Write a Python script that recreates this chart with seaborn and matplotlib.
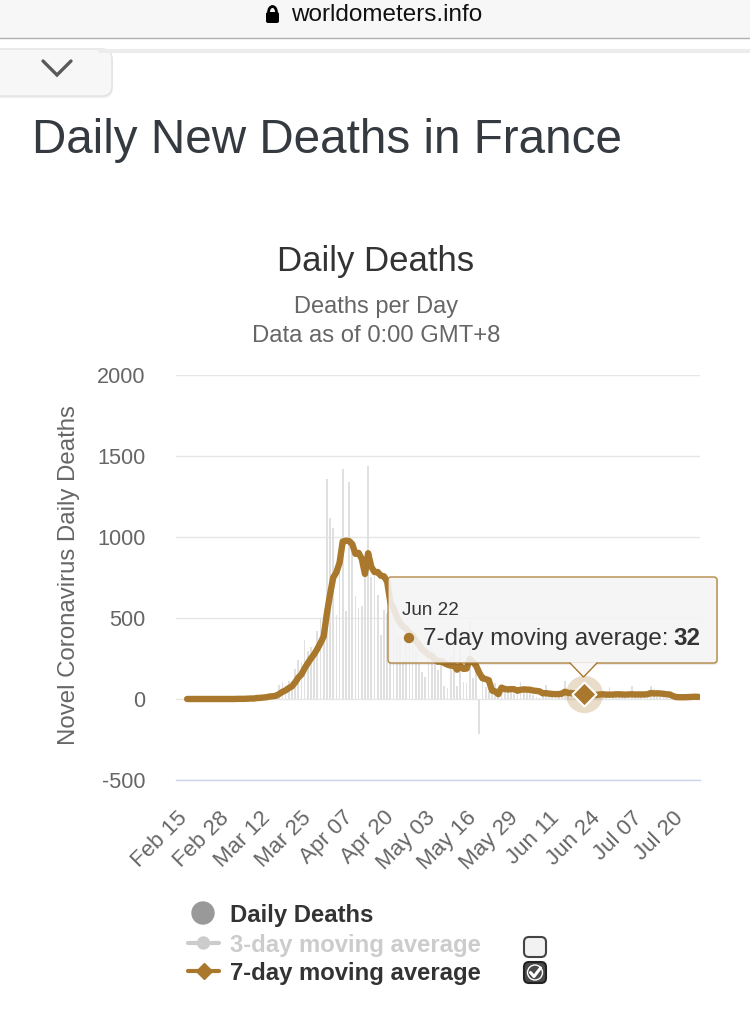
import numpy as np
import pandas as pd
import matplotlib
matplotlib.use("Agg")
import matplotlib.pyplot as plt
import matplotlib.transforms as mtransforms
from matplotlib.patches import FancyBboxPatch, Polygon, Circle, Arc, Rectangle
import seaborn as sns


START_DATE = "2020-02-15"
HOVER_DATE = "2020-06-22"
TICK_EVERY = 13

# daily new deaths, one value per day from Feb 15
daily_deaths = [
    1, 0, 0, 0, 0, 0, 0, 0, 0, 0, 0, 1, 0, 0, 0, 0,
    1, 1, 0, 2, 3, 2, 3, 11, 3, 15, 13, 18, 12, 36, 21, 27,
    89, 108, 78, 112, 112, 186, 240, 231, 365, 299, 319, 292, 418, 499, 509,
    1355, 1120, 1053, 518, 833, 1417, 541, 1341, 987, 635, 561, 574, 762, 1438,
    753, 761, 642, 395, 547, 531, 544, 516, 389, 369, 242, 437, 367, 427, 289,
    218, 166, 135, 306, 330, 278, 178, 243, 80, 70, 263, 348, 83, 351, 104, 96, 483,
    131, 186, -217, 110, 74, 43, 35, 98, 66, 66, 52, 52, 57, 31, 31, 107, 81, 44, 46, 27, 13, 9,
    23, 87, 27, 28, 24, 10, 29, 111, 28, 28, 14, 14, 5, 23,
    80, 18, 14, 24, 30, 11, 14, 76, 18, 29, 25, 25, 4, 21, 80, 14, 25, 28, 25, 7,
    82, 60, 21, 16, 12, 4, 1, 14, 18, 12, 17, 14, 9, 5, 20, 14,
]

# 7-day moving average as shown on the chart
avg_7day = [
    None, None, None,
    0, 0, 0, 0, 0, 0, 0, 0, 0, 0, 0, 0, 0, 0, 0, 0,
    1, 1, 1, 2, 3, 3, 6, 7, 9, 11, 15, 17, 20, 31, 44, 53,
    67, 78, 102, 132, 152, 189, 221, 250, 276, 309, 346, 386,
    527, 645, 749, 782, 841, 972, 977, 975, 956, 896, 902, 865, 772, 900,
    816, 783, 784, 761, 757, 724, 596, 562, 509, 470, 448, 433, 409, 392, 360,
    336, 307, 291, 273, 267, 246, 230, 234, 221, 212, 206, 209, 181, 205, 186, 188, 247,
    228, 205, 162, 128, 123, 116, 52, 47, 30, 70, 62, 59, 61, 60, 51, 57, 59, 58, 57, 52, 50, 47,
    35, 36, 33, 31, 30, 30, 33, 45, 37, 37, 35, 33, 33, 32,
    27, 26, 24, 25, 28, 29, 27, 27, 27, 29, 29, 28, 27, 28, 29, 28, 28, 28, 28, 29,
    37, 34, 35, 34, 32, 29, 28, 18, 12, 11, 11, 11, 12, 13, 14, 13,
]

y_ticks = [-500, 0, 500, 1000, 1500, 2000]


BROWN = "#a9782c"
BAR_COLOR = "#e0e0e0"
GRID = "#e6e6e6"
W, H = 750, 1026

sns.set_theme(style="white")
plt.rcParams["font.family"] = ["Liberation Sans", "DejaVu Sans"]

dates = pd.date_range(START_DATE, periods=len(daily_deaths), freq="D")
days = np.arange(len(dates))
df = pd.DataFrame({
    "day": days,
    "deaths": daily_deaths,
    "avg7": np.array(avg_7day, dtype=float),
})
hover = dates.get_loc(pd.Timestamp(HOVER_DATE))

fig = plt.figure(figsize=(W / 100, H / 100), dpi=100)
fig.patch.set_facecolor("white")

# chart area
ax = fig.add_axes([176 / W, 1 - 780 / H, 524 / W, 405 / H])
sns.barplot(data=df, x="day", y="deaths", native_scale=True, width=0.55,
            color=BAR_COLOR, saturation=1, errorbar=None, edgecolor="none",
            linewidth=0, ax=ax, zorder=2)
sns.lineplot(data=df, x="day", y="avg7", color=BROWN, linewidth=4.6,
             solid_joinstyle="round", solid_capstyle="round", ax=ax, zorder=3)
ax.scatter([df.day[hover]], [df.avg7[hover]], s=720, color=BROWN, alpha=0.25,
           linewidths=0, zorder=4)
ax.scatter([df.day[hover]], [df.avg7[hover]], s=150, marker="D", color=BROWN,
           edgecolor="white", linewidths=1.5, zorder=5)

ax.set_xlim(-0.5, len(days) - 0.5)
ax.set_ylim(-500, 2000)
ax.set_yticks(y_ticks)
ax.set_yticklabels([str(v) for v in y_ticks])
ax.set_xticks(days[::TICK_EVERY])
ax.set_xticklabels(dates[::TICK_EVERY].strftime("%b %d"))
ax.set_xlabel("")
ax.set_ylabel("")
ax.yaxis.grid(True, color=GRID, linewidth=1)
ax.xaxis.grid(False)
ax.set_axisbelow(True)
for side in ["top", "right", "left"]:
    ax.spines[side].set_visible(False)
ax.spines["bottom"].set_color("#ccd6eb")
ax.spines["bottom"].set_linewidth(1)
ax.tick_params(axis="y", length=0, pad=22, labelsize=15.6, labelcolor="#666666")
ax.tick_params(axis="x", length=0, pad=25, labelsize=16, labelcolor="#666666")
offset = mtransforms.ScaledTranslation(7 / 100, 0, fig.dpi_scale_trans)
for lbl in ax.get_xticklabels():
    lbl.set_rotation(45)
    lbl.set_ha("right")
    lbl.set_va("center")
    lbl.set_rotation_mode("anchor")
    lbl.set_transform(lbl.get_transform() + offset)

# overlay in pixel coordinates for the page decorations
ov = fig.add_axes([0, 0, 1, 1], zorder=5)
ov.set_xlim(0, W)
ov.set_ylim(H, 0)
ov.axis("off")
ov.patch.set_alpha(0)

# browser bar
ov.add_patch(Rectangle((0, 0), W, 38, facecolor="#f7f7f7", edgecolor="none"))
ov.plot([0, W], [38, 38], color="#b0b0b0", lw=1)
ov.add_patch(FancyBboxPatch((266, 12), 13, 11, boxstyle="round,pad=0,rounding_size=2",
                            facecolor="black", edgecolor="none"))
ov.add_patch(Arc((272.5, 12.5), 8, 12, theta1=180, theta2=360, color="black", lw=2))
ov.text(291, 15, "worldometers.info", fontsize=17.5, color="#111111",
        ha="left", va="center")

# collapsed tab
ov.plot([100, W], [50.5, 50.5], color="#ececec", lw=3)
ov.add_patch(FancyBboxPatch((-12, 51), 125, 47, boxstyle="round,pad=0,rounding_size=10",
                            facecolor="black", edgecolor="none", alpha=0.07))
ov.add_patch(FancyBboxPatch((-12, 49), 124, 47, boxstyle="round,pad=0,rounding_size=10",
                            facecolor="#f7f7f7", edgecolor="#e2e2e2", lw=1))
ov.plot([43, 57, 71], [61, 75, 61], color="#5a5a5a", lw=2.4,
        solid_capstyle="round", solid_joinstyle="miter")

# headings
ov.text(32, 153, "Daily New Deaths in France", fontsize=34.3, color="#343a40",
        ha="left", va="baseline")
ov.text(376, 271, "Daily Deaths", fontsize=25, color="#333333", ha="center", va="baseline")
ov.text(376, 313, "Deaths per Day", fontsize=17, color="#666666", ha="center", va="baseline")
ov.text(376, 342, "Data as of 0:00 GMT+8", fontsize=17.2, color="#666666",
        ha="center", va="baseline")
ov.text(69, 575, "Novel Coronavirus Daily Deaths", fontsize=17.3, color="#666666",
        rotation=90, ha="center", va="center")

# tooltip
ov.add_patch(FancyBboxPatch((389, 578), 329, 87, boxstyle="round,pad=0,rounding_size=3",
                            facecolor="black", edgecolor="none", alpha=0.08))
ov.add_patch(FancyBboxPatch((388, 577), 329, 86, boxstyle="round,pad=0,rounding_size=3",
                            facecolor="#f7f7f7", edgecolor=BROWN, lw=1, alpha=0.88))
ov.add_patch(Polygon([(570, 662.2), (583.5, 677), (597, 662.2)], closed=True,
                     facecolor="#f7f7f7", edgecolor="none", alpha=1))
ov.plot([570, 583.5, 597], [663, 677, 663], color=BROWN, lw=1)
ov.text(402, 615, f"{dates[hover]:%b %d}", fontsize=13.6, color="#333333",
        ha="left", va="baseline")
ov.add_patch(Circle((409, 638), 4.5, color=BROWN))
ov.text(423, 645, "7-day moving average: ", fontsize=17.4, color="#333333",
        ha="left", va="baseline")
ov.text(700, 645, f"{df.avg7[hover]:.0f}", fontsize=17.4, color="#333333",
        fontweight="bold", ha="right", va="baseline")

# legend
ov.add_patch(Circle((203, 913), 11, color="#999999"))
ov.text(230, 922, "Daily Deaths", fontsize=17.2, fontweight="bold", color="#333333",
        ha="left", va="baseline")
ov.plot([188, 219], [943, 943], color="#cccccc", lw=3)
ov.add_patch(Circle((203.5, 943), 6, color="#cccccc"))
ov.text(230, 952, "3-day moving average", fontsize=17.2, fontweight="bold",
        color="#cccccc", ha="left", va="baseline")
ov.plot([188, 219], [971, 971], color=BROWN, lw=3)
ov.plot([203.5], [971], marker="D", ms=8, color=BROWN)
ov.text(230, 980, "7-day moving average", fontsize=17.2, fontweight="bold",
        color="#333333", ha="left", va="baseline")

# checkboxes
ov.add_patch(FancyBboxPatch((524, 937), 22, 20, boxstyle="round,pad=0,rounding_size=5",
                            facecolor="#f2f2f2", edgecolor="#444444", lw=1.5))
ov.add_patch(FancyBboxPatch((524, 962), 22, 21, boxstyle="round,pad=0,rounding_size=5",
                            facecolor="#4a4a4a", edgecolor="#222222", lw=1.5))
ov.add_patch(Circle((535, 972.5), 7.5, facecolor="none", edgecolor="white", lw=1))
ov.plot([530.5, 534, 540.5], [972.5, 976.5, 968], color="white", lw=2.2,
        solid_capstyle="round", solid_joinstyle="round")

fig.savefig("out.png", dpi=100)
